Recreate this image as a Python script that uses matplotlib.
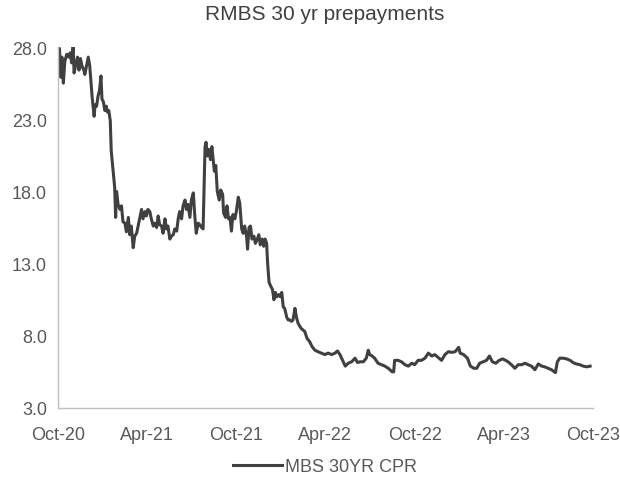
import matplotlib
matplotlib.use('Agg')
import matplotlib.pyplot as plt
import matplotlib.dates as mdates
import pandas as pd

plt.rcParams['font.family'] = ['Liberation Sans', 'DejaVu Sans']

# MBS 30yr CPR
dates = [
    '2020-10-01', '2020-10-04', '2020-10-07', '2020-10-09', '2020-10-12', '2020-10-15', '2020-10-19', '2020-10-23', '2020-10-26', '2020-10-29',
    '2020-11-01', '2020-11-03', '2020-11-07', '2020-11-10', '2020-11-13', '2020-11-16', '2020-11-19', '2020-11-23', '2020-11-25', '2020-11-29',
    '2020-12-02', '2020-12-05', '2020-12-08', '2020-12-10', '2020-12-14', '2020-12-16', '2020-12-19', '2020-12-22', '2020-12-25', '2020-12-28', '2020-12-30',
    '2021-01-02', '2021-01-05', '2021-01-08', '2021-01-10', '2021-01-13', '2021-01-16', '2021-01-18', '2021-01-22', '2021-01-25', '2021-01-27', '2021-01-29',
    '2021-02-01', '2021-02-05', '2021-02-08', '2021-02-11', '2021-02-15', '2021-02-18', '2021-02-22', '2021-02-25', '2021-02-28',
    '2021-03-04', '2021-03-07', '2021-03-11', '2021-03-14', '2021-03-17', '2021-03-21', '2021-03-24', '2021-03-28', '2021-03-31',
    '2021-04-03', '2021-04-07', '2021-04-10', '2021-04-14', '2021-04-17', '2021-04-21', '2021-04-24', '2021-04-27',
    '2021-05-01', '2021-05-04', '2021-05-08', '2021-05-11', '2021-05-14', '2021-05-18', '2021-05-21', '2021-05-25', '2021-05-28',
    '2021-06-01', '2021-06-04', '2021-06-07', '2021-06-11', '2021-06-14', '2021-06-18', '2021-06-21', '2021-06-24', '2021-06-28',
    '2021-07-01', '2021-07-05', '2021-07-08', '2021-07-11', '2021-07-15', '2021-07-18', '2021-07-22', '2021-07-25', '2021-07-29', '2021-07-31',
    '2021-08-03', '2021-08-06', '2021-08-09', '2021-08-12', '2021-08-17', '2021-08-20', '2021-08-23', '2021-08-27', '2021-08-30',
    '2021-09-03', '2021-09-05', '2021-09-09', '2021-09-12', '2021-09-15', '2021-09-18', '2021-09-21', '2021-09-24', '2021-09-28',
    '2021-10-01', '2021-10-05', '2021-10-08', '2021-10-12', '2021-10-15', '2021-10-18', '2021-10-22', '2021-10-24', '2021-10-27', '2021-10-30',
    '2021-11-02', '2021-11-06', '2021-11-09', '2021-11-13', '2021-11-16', '2021-11-19', '2021-11-23', '2021-11-26', '2021-11-29',
    '2021-12-02', '2021-12-04', '2021-12-07', '2021-12-11', '2021-12-14', '2021-12-17', '2021-12-20', '2021-12-23', '2021-12-27', '2021-12-30',
    '2022-01-02', '2022-01-05', '2022-01-08', '2022-01-12', '2022-01-15', '2022-01-18', '2022-01-22', '2022-01-25', '2022-01-29',
    '2022-02-01', '2022-02-04', '2022-02-08', '2022-02-11', '2022-02-18', '2022-02-23', '2022-02-28',
    '2022-03-05', '2022-03-11', '2022-03-17', '2022-03-24', '2022-03-31',
    '2022-04-07', '2022-04-14', '2022-04-21', '2022-04-26',
    '2022-05-01', '2022-05-08', '2022-05-12', '2022-05-18', '2022-05-25',
    '2022-06-01', '2022-06-06', '2022-06-11', '2022-06-18', '2022-06-24', '2022-06-28',
    '2022-07-01', '2022-07-06', '2022-07-11', '2022-07-18', '2022-07-25',
    '2022-08-01', '2022-08-08', '2022-08-16', '2022-08-19', '2022-08-21', '2022-08-28',
    '2022-09-04', '2022-09-11', '2022-09-18', '2022-09-25',
    '2022-10-01', '2022-10-08', '2022-10-15', '2022-10-22', '2022-10-29',
    '2022-11-05', '2022-11-11', '2022-11-18', '2022-11-25',
    '2022-12-02', '2022-12-09', '2022-12-16', '2022-12-23', '2022-12-30',
    '2023-01-02', '2023-01-09', '2023-01-17', '2023-01-23', '2023-01-30',
    '2023-02-05', '2023-02-11', '2023-02-18', '2023-02-25',
    '2023-03-03', '2023-03-09', '2023-03-16', '2023-03-23', '2023-03-30',
    '2023-04-05', '2023-04-10', '2023-04-17', '2023-04-24',
    '2023-05-01', '2023-05-08', '2023-05-15', '2023-05-21', '2023-05-28',
    '2023-06-04', '2023-06-11', '2023-06-18', '2023-06-24',
    '2023-07-01', '2023-07-08', '2023-07-16', '2023-07-20', '2023-07-25',
    '2023-08-01', '2023-08-08', '2023-08-15', '2023-08-21', '2023-08-28',
    '2023-09-04', '2023-09-11', '2023-09-18', '2023-09-25',
]

cpr = [
    26.6, 27.9, 25.9, 27.3, 25.5, 27.0, 27.5, 27.3, 27.6, 26.9,
    28.0, 26.2, 26.9, 27.3, 26.4, 27.2, 26.7, 26.4, 26.1, 26.8,
    27.3, 26.7, 25.4, 24.5, 23.2, 24.0, 23.9, 24.6, 25.0, 26.0, 24.4,
    24.2, 23.6, 23.9, 23.5, 23.6, 22.9, 20.8, 19.4, 18.3, 16.2, 18.0,
    17.1, 16.75, 17.0, 15.9, 15.8, 15.2, 16.2, 15.0, 15.6,
    14.1, 14.9, 15.1, 15.6, 16.1, 16.75, 16.1, 16.6, 16.3,
    16.75, 16.6, 16.1, 15.6, 15.8, 15.5, 16.3, 15.7,
    15.6, 15.1, 16.1, 15.4, 15.6, 14.7, 14.9, 15.0, 15.4,
    15.25, 16.1, 16.6, 16.1, 17.0, 17.4, 16.75, 17.1, 16.2,
    17.4, 17.9, 16.3, 15.1, 15.8, 15.7, 15.5, 15.4, 21.1, 21.4,
    20.45, 20.9, 20.2, 21.1, 19.4, 19.8, 18.0, 17.4, 18.1,
    17.8, 16.5, 16.2, 17.0, 16.1, 16.2, 15.25, 16.4, 16.1,
    16.6, 17.6, 17.2, 15.4, 15.1, 15.6, 14.9, 14.0, 15.5, 15.6,
    14.7, 14.9, 14.4, 14.7, 15.0, 14.3, 14.7, 14.2, 14.7,
    14.4, 13.05, 11.7, 11.4, 11.2, 10.5, 11.0, 10.7, 10.85, 10.7,
    11.0, 10.0, 9.9, 9.3, 9.1, 9.1, 9.0, 9.1, 9.9,
    9.3, 8.9, 8.65, 8.5, 8.3, 7.8, 7.6,
    7.25, 7.0, 6.9, 6.8, 6.7,
    6.8, 6.7, 6.8, 6.95,
    6.7, 6.2, 5.9, 6.1, 6.2,
    6.45, 6.15, 6.2, 6.2, 6.45, 7.0,
    6.7, 6.6, 6.45, 6.1, 6.0,
    5.9, 5.75, 5.5, 5.5, 6.3, 6.3,
    6.2, 6.0, 5.9, 6.1,
    6.0, 6.3, 6.3, 6.45, 6.8,
    6.6, 6.7, 6.5, 6.3,
    6.7, 6.9, 6.85, 6.9, 7.2,
    6.8, 6.7, 6.45, 5.9, 5.75,
    5.75, 6.1, 6.2, 6.3,
    6.6, 6.2, 6.1, 6.3, 6.4,
    6.3, 6.2, 6.0, 5.75,
    6.0, 6.0, 6.1, 6.0, 5.9,
    5.65, 6.05, 5.9, 5.85,
    5.75, 5.65, 5.45, 6.2, 6.45,
    6.45, 6.4, 6.3, 6.15, 6.05,
    6.0, 5.9, 5.85, 5.9,
]

y_ticks = [3.0, 8.0, 13.0, 18.0, 23.0, 28.0]

df = pd.DataFrame({'date': pd.to_datetime(dates), 'cpr': cpr})

text_col = '#595959'
axis_col = '#bfbfbf'

fig = plt.figure(figsize=(6.2, 4.81), dpi=100)
ax = fig.add_axes([0.0935, 0.1497, 0.863, 0.7505])

line, = ax.plot(df['date'], df['cpr'], color='#404040', linewidth=2.2,
                solid_joinstyle='round', label='MBS 30YR CPR')

ax.set_xlim(pd.Timestamp('2020-10-01'), pd.Timestamp('2023-10-01'))
ax.set_ylim(3.0, 28.0)
ax.set_yticks(y_ticks)
ax.set_yticklabels([f'{t:.1f}' for t in y_ticks])
ax.xaxis.set_major_locator(mdates.MonthLocator(bymonth=[4, 10]))
ax.xaxis.set_major_formatter(mdates.DateFormatter('%b-%y'))

for s in ['top', 'right']:
    ax.spines[s].set_visible(False)
for s in ['left', 'bottom']:
    ax.spines[s].set_color(axis_col)
    ax.spines[s].set_linewidth(1.0)

ax.tick_params(axis='both', length=0, labelsize=13, colors=text_col)
ax.tick_params(axis='x', pad=13)
ax.tick_params(axis='y', pad=8)

fig.text(325 / 620, 1 - 15 / 481, 'RMBS 30 yr prepayments', ha='center', va='center',
         fontsize=15, color='#404040')

fig.legend(handles=[line], loc='center', bbox_to_anchor=(325 / 620, 1 - 468 / 481),
           frameon=False, fontsize=13, labelcolor=text_col, handlelength=2.7,
           handletextpad=0.2)

fig.savefig('out.png', dpi=100)
